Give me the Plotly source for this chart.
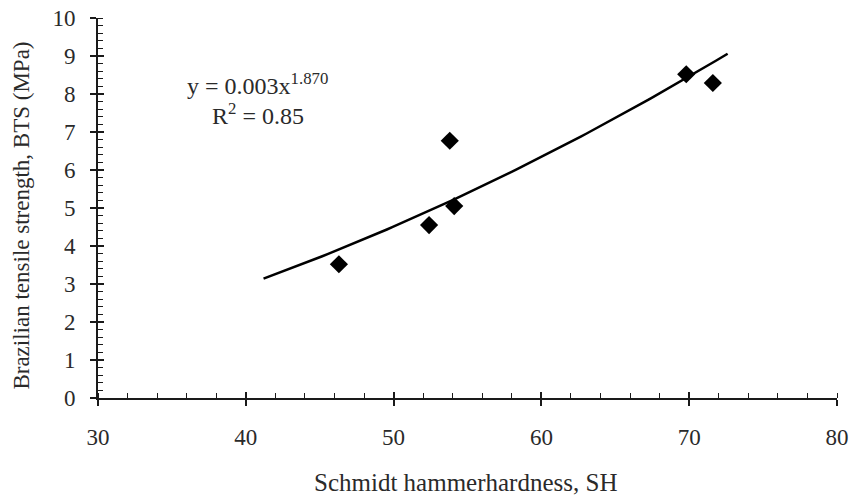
import numpy as np
import plotly.graph_objects as go

# Data
sh = [46.3, 52.4, 53.8, 54.1, 69.8, 71.6]
bts = [3.52, 4.55, 6.77, 5.05, 8.52, 8.29]

# Power trendline reported on the chart: y = a * x^b
fit_a = 0.003
fit_b = 1.870
fit_x_start = 41.2
fit_x_end = 72.6

x_ticks = [30, 40, 50, 60, 70, 80]
y_ticks = [0, 1, 2, 3, 4, 5, 6, 7, 8, 9, 10]

fx = np.linspace(fit_x_start, fit_x_end, 80)
fy = fit_a * fx ** fit_b

FONT = "Liberation Serif, Times New Roman, serif"
INK = "#1a1a1a"
TXT = "#2a2a2a"

fig = go.Figure()
fig.add_trace(go.Scatter(x=fx, y=fy, mode="lines",
                         line=dict(color="black", width=2.5),
                         showlegend=False, hoverinfo="skip"))
fig.add_trace(go.Scatter(x=sh, y=bts, mode="markers",
                         marker=dict(symbol="diamond", size=14, color="black"),
                         showlegend=False))

axis_common = dict(showgrid=False, zeroline=False, showline=True, automargin=False,
                   linecolor=INK, linewidth=2, tickcolor=INK, ticklabeloverflow="allow",
                   tickfont=dict(family=FONT, size=23, color=TXT))

fig.update_layout(
    width=852, height=497,
    margin=dict(l=98, r=15, t=18, b=99),
    paper_bgcolor="white", plot_bgcolor="white",
    font=dict(family=FONT, color=TXT),
    xaxis=dict(range=[30, 80], tickvals=x_ticks, ticks="outside", ticklen=6,
               tickwidth=1.5, ticklabelstandoff=11,
               minor=dict(dtick=2, ticks="inside", ticklen=5, tickcolor=INK, tickwidth=1.2),
               **axis_common),
    yaxis=dict(range=[0, 10], tickvals=y_ticks, ticks="outside", ticklen=6,
               tickwidth=1.5, ticklabelstandoff=10,
               minor=dict(dtick=0.2, ticks="inside", ticklen=5, tickcolor=INK, tickwidth=1.2),
               **axis_common),
    xaxis2=dict(range=[30, 80], overlaying="x", matches="x", tickvals=x_ticks,
                ticks="inside", ticklen=6, tickwidth=1.5, tickcolor=INK, automargin=False,
                showticklabels=False, showgrid=False, zeroline=False, showline=False,
                side="bottom"),
    yaxis2=dict(range=[0, 10], overlaying="y", matches="y", tickvals=y_ticks,
                ticks="inside", ticklen=6, tickwidth=1.5, tickcolor=INK, automargin=False,
                showticklabels=False, showgrid=False, zeroline=False, showline=False,
                side="left"),
)
# dummy trace to activate the overlay axes
fig.add_trace(go.Scatter(x=[None], y=[None], xaxis="x2", yaxis="y2",
                         showlegend=False, hoverinfo="skip"))

fig.add_annotation(x=40.8, y=8.26, xref="x", yref="y",
                   text="y = 0.003x<sup>1.870</sup>", showarrow=False,
                   font=dict(family=FONT, size=24, color=TXT))
fig.add_annotation(x=40.8, y=7.48, xref="x", yref="y",
                   text="R<sup>2</sup> = 0.85", showarrow=False,
                   font=dict(family=FONT, size=24, color=TXT))

fig.add_annotation(x=0, y=0.48, xref="paper", yref="paper", xshift=-76,
                   xanchor="center", yanchor="middle",
                   text="Brazilian tensile strength, BTS (MPa)", textangle=-90,
                   showarrow=False, font=dict(family=FONT, size=23, color=TXT))
fig.add_annotation(x=0.497, y=0, xref="paper", yref="paper", yshift=-84,
                   xanchor="center", yanchor="middle",
                   text="Schmidt hammerhardness, SH",
                   showarrow=False, font=dict(family=FONT, size=25, color=TXT))

fig.write_html("out.html", config={"displayModeBar": False},
               post_script="document.body.style.margin='0';document.body.style.overflow='hidden';")
